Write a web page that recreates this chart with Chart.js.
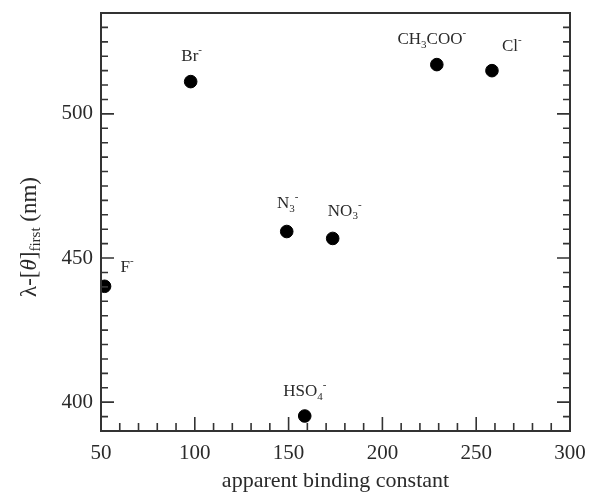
<!DOCTYPE html>
<html>
<head>
<meta charset="utf-8">
<script src="https://cdn.jsdelivr.net/npm/chart.js@4/dist/chart.umd.min.js"></script>
<style>
  body { margin: 0; background: #fff; }
  #wrap { width: 591px; height: 495px; }
</style>
</head>
<body>
<div id="wrap"><canvas id="chart"></canvas></div>
<script>
// anion labels, "_" = subscript, "^" = superscript
const anions = ['F^-', 'Br^-', 'N_3^-', 'HSO_4^-', 'NO_3^-', 'CH_3COO^-', 'Cl^-'];
const bindingConst = [51.9, 97.8, 149.0, 158.6, 173.5, 229.0, 258.4];
const lambdaFirst = [440.2, 511.2, 459.2, 395.2, 456.8, 517.1, 515.0];
const xTicks = [50, 100, 150, 200, 250, 300];
const yTicks = [400, 450, 500];

// where each label sits relative to its point (px)
const labelPlace = [
  { dx: 16, dy: -19, align: 'left' },
  { dx: 1, dy: -25, align: 'center' },
  { dx: 1, dy: -28, align: 'center' },
  { dx: 0, dy: -24, align: 'center' },
  { dx: 12, dy: -27, align: 'center' },
  { dx: -5, dy: -25, align: 'center' },
  { dx: 10, dy: -24, align: 'left' }
];

const SERIF = '"Liberation Serif", "DejaVu Serif", serif';
const INK = '#2a2a2a';

function parseRich(str) {
  const parts = [];
  let i = 0;
  while (i < str.length) {
    const c = str[i];
    if (c === '_' || c === '^') {
      parts.push({ t: str[i + 1], k: c === '_' ? 'sub' : 'sup' });
      i += 2;
    } else {
      let j = i;
      while (j < str.length && str[j] !== '_' && str[j] !== '^') j++;
      parts.push({ t: str.slice(i, j), k: 'n' });
      i = j;
    }
  }
  return parts;
}

function richWidth(ctx, parts, size) {
  let w = 0;
  parts.forEach(p => {
    ctx.font = (p.k === 'n' ? size : Math.round(size * 0.62)) + 'px ' + SERIF;
    w += ctx.measureText(p.t).width;
  });
  return w;
}

function drawRich(ctx, parts, x, y, size) {
  let cx = x;
  parts.forEach(p => {
    const small = Math.round(size * 0.62);
    let yy = y;
    if (p.k === 'sub') yy = y + size * 0.3;
    if (p.k === 'sup') yy = y - size * 0.38;
    ctx.font = (p.k === 'n' ? size : small) + 'px ' + SERIF;
    ctx.fillText(p.t, cx, yy);
    cx += ctx.measureText(p.t).width;
  });
}

const framePlugin = {
  id: 'frame',
  afterDraw(chart) {
    const ctx = chart.ctx;
    const a = chart.chartArea;
    const xs = chart.scales.x, ys = chart.scales.y;
    ctx.save();
    ctx.strokeStyle = '#333';
    ctx.lineWidth = 2;
    ctx.strokeRect(a.left, a.top, a.right - a.left, a.bottom - a.top);

    // inward ticks: bottom, left and right
    ctx.lineWidth = 1.6;
    ctx.beginPath();
    for (let v = 60; v < 300; v += 10) {
      const px = xs.getPixelForValue(v);
      const len = v % 50 === 0 ? 14 : 8;
      ctx.moveTo(px, a.bottom);
      ctx.lineTo(px, a.bottom - len);
    }
    for (let v = 395; v <= 535; v += 5) {
      const py = ys.getPixelForValue(v);
      if (py < a.top + 2) continue;
      const len = v % 50 === 0 ? 13 : 7;
      ctx.moveTo(a.left, py);
      ctx.lineTo(a.left + len, py);
      ctx.moveTo(a.right, py);
      ctx.lineTo(a.right - len, py);
    }
    ctx.stroke();

    // anion labels
    ctx.fillStyle = INK;
    ctx.textBaseline = 'middle';
    ctx.textAlign = 'left';
    const meta = chart.getDatasetMeta(0);
    anions.forEach((lab, i) => {
      const pt = meta.data[i];
      const place = labelPlace[i];
      const parts = parseRich(lab);
      const size = 17;
      const w = richWidth(ctx, parts, size);
      let x = pt.x + place.dx;
      if (place.align === 'center') x -= w / 2;
      drawRich(ctx, parts, x, pt.y + place.dy, size);
    });

    // y axis title with subscript
    ctx.translate(30, 237);
    ctx.rotate(-Math.PI / 2);
    const size = 23;
    const pieces = [
      { t: '\u03bb-[', f: size + 'px ' + SERIF, dy: 0 },
      { t: '\u03b8', f: 'italic ' + size + 'px ' + SERIF, dy: 0 },
      { t: ']', f: size + 'px ' + SERIF, dy: 0 },
      { t: 'first', f: '15px ' + SERIF, dy: 6 },
      { t: ' (nm)', f: size + 'px ' + SERIF, dy: 0 }
    ];
    let total = 0;
    pieces.forEach(p => { ctx.font = p.f; total += ctx.measureText(p.t).width; });
    let cx = -total / 2;
    pieces.forEach(p => {
      ctx.font = p.f;
      ctx.fillText(p.t, cx, p.dy);
      cx += ctx.measureText(p.t).width;
    });
    ctx.restore();
  }
};

new Chart(document.getElementById('chart'), {
  type: 'scatter',
  data: {
    datasets: [{
      data: bindingConst.map((v, i) => ({ x: v, y: lambdaFirst[i] })),
      backgroundColor: '#000',
      borderColor: '#000',
      pointRadius: 6.3,
      pointHoverRadius: 6.3
    }]
  },
  options: {
    responsive: true,
    maintainAspectRatio: false,
    animation: false,
    events: [],
    layout: { padding: { top: 13, right: 21, left: 0, bottom: 0 } },
    plugins: { legend: { display: false }, tooltip: { enabled: false } },
    scales: {
      x: {
        type: 'linear',
        min: 50,
        max: 300,
        afterBuildTicks(scale) { scale.ticks = xTicks.map(v => ({ value: v })); },
        afterFit(scale) {
          scale.height = 64;
          scale.paddingLeft = 0;
          scale.paddingRight = 0;
        },
        grid: { drawOnChartArea: false, drawTicks: false },
        border: { display: false },
        ticks: { color: INK, font: { family: SERIF, size: 21 }, padding: 10, maxRotation: 0 },
        title: {
          display: true,
          text: 'apparent binding constant',
          color: INK,
          font: { family: SERIF, size: 22 },
          padding: { top: 0, bottom: 1 }
        }
      },
      y: {
        type: 'linear',
        min: 390,
        max: 535,
        afterBuildTicks(scale) { scale.ticks = yTicks.map(v => ({ value: v })); },
        afterFit(scale) {
          scale.width = 101;
          scale.paddingTop = 0;
          scale.paddingBottom = 0;
        },
        grid: { drawOnChartArea: false, drawTicks: false },
        border: { display: false },
        ticks: { color: INK, font: { family: SERIF, size: 21 }, padding: 8 }
      }
    }
  },
  plugins: [framePlugin]
});
</script>
</body>
</html>
